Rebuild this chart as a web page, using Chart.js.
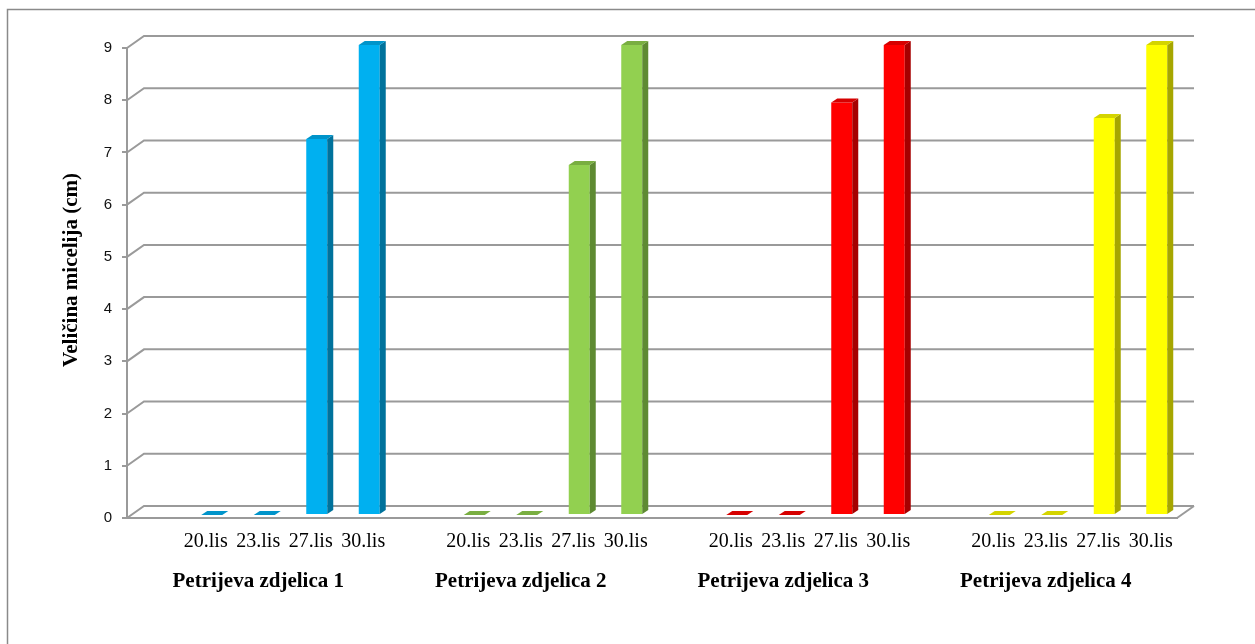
<!DOCTYPE html>
<html>
<head>
<meta charset="utf-8">
<script src="https://cdn.jsdelivr.net/npm/chart.js@4/dist/chart.umd.min.js"></script>
<style>
  html, body { margin: 0; padding: 0; background: #fff; }
  canvas { display: block; }
</style>
</head>
<body>
<canvas id="chart" width="1255" height="644"></canvas>
<script>
// podaci
const zdjelice = ['Petrijeva zdjelica 1', 'Petrijeva zdjelica 2', 'Petrijeva zdjelica 3', 'Petrijeva zdjelica 4'];
const datumi = ['20.lis', '23.lis', '27.lis', '30.lis'];
const zdjelica1 = [0, 0, 7.2, 9];
const zdjelica2 = [0, 0, 6.7, 9];
const zdjelica3 = [0, 0, 7.9, 9];
const zdjelica4 = [0, 0, 7.6, 9];
const yTicks = [0, 1, 2, 3, 4, 5, 6, 7, 8, 9];

const boje = ['#00B0F0', '#92D050', '#FF0000', '#FFFF00'];
const bojeBok = ['#00729C', '#5E8A32', '#A60000', '#A6A600'];
const bojeVrh = ['#0094CA', '#79AE41', '#D60000', '#D4D400'];

// 5 mjesta po zdjelici, prvo prazno
const labels = [];
const vrijednosti = [];
const grupa = [];
[zdjelica1, zdjelica2, zdjelica3, zdjelica4].forEach((z, g) => {
    labels.push('');
    vrijednosti.push(null);
    grupa.push(g);
    z.forEach((v, i) => {
        labels.push(datumi[i]);
        vrijednosti.push(v);
        grupa.push(g);
    });
});

const GRID = '#9a9a9a';
const BACK_DX = 17, BACK_DY = -12;   // pomak zadnjeg zida
const BAR_DX = 6, BAR_DY = -3;       // stupci su malo iza prednje ravnine
const DEPTH_DX = 6, DEPTH_DY = -4;   // dubina stupca

const okvir = {
    id: 'okvir',
    beforeDraw(chart) {
        const ctx = chart.ctx;
        ctx.save();
        ctx.strokeStyle = '#8a8a8a';
        ctx.lineWidth = 1.5;
        ctx.beginPath();
        ctx.moveTo(7.5, 700);
        ctx.lineTo(7.5, 9.5);
        ctx.lineTo(1300, 9.5);
        ctx.stroke();

        // naslov osi y
        ctx.translate(72, 270);
        ctx.rotate(-Math.PI / 2);
        ctx.font = 'bold 21px "Liberation Serif"';
        ctx.fillStyle = '#000';
        ctx.textAlign = 'center';
        ctx.textBaseline = 'middle';
        ctx.fillText('Veličina micelija (cm)', 0, 0);
        ctx.restore();
    }
};

const zidovi = {
    id: 'zidovi',
    beforeDatasetsDraw(chart) {
        const ctx = chart.ctx;
        const y = chart.scales.y;
        const a = chart.chartArea;
        ctx.save();
        ctx.strokeStyle = GRID;
        ctx.lineWidth = 2;
        y.ticks.forEach(t => {
            const py = y.getPixelForValue(t.value);
            ctx.beginPath();
            ctx.moveTo(a.left, py);
            ctx.lineTo(a.left + BACK_DX, py + BACK_DY);
            ctx.lineTo(a.right + BACK_DX, py + BACK_DY);
            ctx.stroke();
        });
        // desni rub poda
        const p0 = y.getPixelForValue(0);
        ctx.beginPath();
        ctx.moveTo(a.right, p0);
        ctx.lineTo(a.right + BACK_DX, p0 + BACK_DY);
        ctx.stroke();
        ctx.restore();

        ctx.save();
        ctx.translate(BAR_DX, BAR_DY);
    },
    afterDatasetsDraw(chart) {
        const ctx = chart.ctx;
        const meta = chart.getDatasetMeta(0);
        meta.data.forEach((el, i) => {
            if (vrijednosti[i] === null) return;
            const g = grupa[i];
            const l = el.x - el.width / 2, r = el.x + el.width / 2;
            const top = el.y, base = el.base;
            if (base - top > 0.5) {
                ctx.fillStyle = bojeBok[g];
                ctx.beginPath();
                ctx.moveTo(r, top);
                ctx.lineTo(r + DEPTH_DX, top + DEPTH_DY);
                ctx.lineTo(r + DEPTH_DX, base + DEPTH_DY);
                ctx.lineTo(r, base);
                ctx.closePath();
                ctx.fill();
            }
            ctx.fillStyle = bojeVrh[g];
            ctx.beginPath();
            ctx.moveTo(l, top);
            ctx.lineTo(l + DEPTH_DX, top + DEPTH_DY);
            ctx.lineTo(r + DEPTH_DX, top + DEPTH_DY);
            ctx.lineTo(r, top);
            ctx.closePath();
            ctx.fill();
        });
        ctx.restore();
    }
};

new Chart(document.getElementById('chart'), {
    type: 'bar',
    data: {
        labels: labels,
        datasets: [{
            data: vrijednosti,
            backgroundColor: grupa.map(g => boje[g]),
            borderWidth: 0,
            barPercentage: 0.4,
            categoryPercentage: 1
        }]
    },
    options: {
        responsive: false,
        devicePixelRatio: 1,
        animation: false,
        layout: { padding: { left: 0, right: 78, top: 48, bottom: 46 } },
        plugins: {
            legend: { display: false },
            tooltip: { enabled: false }
        },
        scales: {
            y: {
                min: 0,
                max: 9,
                afterFit: s => { s.width = 127; },
                afterBuildTicks: s => { s.ticks = yTicks.map(v => ({ value: v })); },
                grid: { drawOnChartArea: false, tickLength: 5, color: GRID, lineWidth: 2 },
                border: { display: true, color: GRID, width: 2 },
                ticks: {
                    padding: 10,
                    color: '#111',
                    font: { family: '"Liberation Sans", Arial, sans-serif', size: 15 }
                }
            },
            x: {
                afterFit: s => { s.height = 36; },
                grid: { display: false, drawTicks: false },
                border: { display: true, color: GRID, width: 2 },
                ticks: {
                    autoSkip: false,
                    maxRotation: 0,
                    padding: 12,
                    color: '#000',
                    font: { family: '"Liberation Serif", "Times New Roman", serif', size: 20 }
                }
            },
            x2: {
                type: 'category',
                position: 'bottom',
                labels: zdjelice,
                offset: true,
                afterFit: s => { s.height = 44; },
                grid: { display: false, drawTicks: false },
                border: { display: false },
                ticks: {
                    autoSkip: false,
                    maxRotation: 0,
                    padding: 15,
                    color: '#000',
                    font: { family: '"Liberation Serif", "Times New Roman", serif', size: 21, weight: 'bold' }
                }
            }
        }
    },
    plugins: [okvir, zidovi]
});
</script>
</body>
</html>
